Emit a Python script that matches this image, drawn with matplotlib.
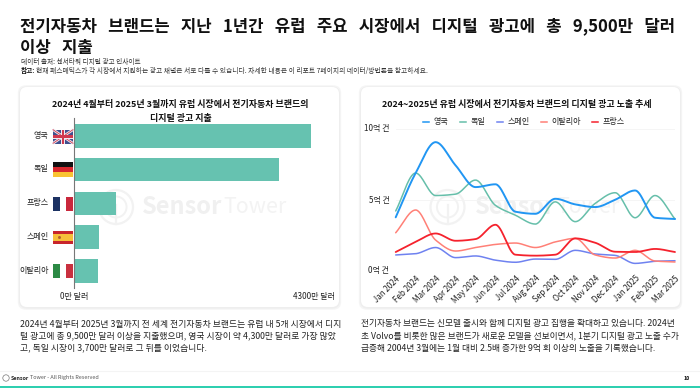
import numpy as np
import matplotlib
matplotlib.use("Agg")
import matplotlib.pyplot as plt
from matplotlib.patches import FancyBboxPatch, Rectangle, Circle
from matplotlib.lines import Line2D

plt.rcParams['font.family'] = ['Noto Sans CJK KR', 'DejaVu Sans']

# ---------- data ----------
bar_countries = ['영국', '독일', '프랑스', '스페인', '이탈리아']
bar_values = [43.0, 37.2, 7.6, 4.4, 4.25]

months = ['Jan 2024', 'Feb 2024', 'Mar 2024', 'Apr 2024', 'May 2024', 'Jun 2024', 'Jul 2024', 'Aug 2024',
          'Sep 2024', 'Oct 2024', 'Nov 2024', 'Dec 2024', 'Jan 2025', 'Feb 2025', 'Mar 2025']
uk = [3.75, 6.9, 9.1, 7.45, 5.9, 6.1, 4.15, 4.0, 5.07, 4.67, 4.48, 5.0, 5.66, 3.72, 3.63]
germany = [4.2, 6.9, 5.3, 5.4, 6.4, 4.6, 3.9, 3.27, 4.85, 3.44, 4.74, 5.5, 3.72, 5.3, 3.63]
spain = [1.07, 1.16, 1.6, 0.88, 1.0, 0.7, 0.55, 0.78, 0.76, 1.4, 1.14, 1.04, 0.47, 0.62, 0.66]
italy = [2.65, 4.27, 2.13, 1.35, 1.6, 1.82, 1.92, 1.6, 2.0, 2.25, 1.07, 0.85, 1.4, 0.64, 0.57]
france = [1.28, 2.0, 2.6, 2.08, 2.2, 3.22, 1.09, 1.02, 1.09, 2.25, 1.94, 1.3, 1.28, 1.5, 1.28]

TITLE = ['전기자동차   브랜드는   지난   1년간   유럽   주요   시장에서   디지털   광고에   총   9,500만   달러', '이상   지출']
SOURCE = '데이터 출처: 센서타워 디지털 광고 인사이트'
NOTE = '현재 패스매틱스가 각 시장에서 지원하는 광고 채널은 서로 다를 수 있습니다. 자세한 내용은 이 리포트 7페이지의 데이터/방법론을 참고하세요.'
LEFT_TITLE = ['2024년 4월부터 2025년 3월까지 유럽 시장에서 전기자동차 브랜드의', '디지털 광고 지출']
RIGHT_TITLE = '2024~2025년 유럽 시장에서 전기자동차 브랜드의 디지털 광고 노출 추세'
LEFT_BODY = ['2024년 4월부터 2025년 3월까지 전 세계 전기자동차 브랜드는 유럽 내 5개 시장에서 디지',
             '털 광고에 총 9,500만 달러 이상을 지출했으며, 영국 시장이 약 4,300만 달러로 가장 많았',
             '고, 독일 시장이 3,700만 달러로 그 뒤를 이었습니다.']
RIGHT_BODY = ['전기자동차 브랜드는 신모델 출시와 함께 디지털 광고 집행을 확대하고 있습니다. 2024년',
              '초 Volvo를 비롯한 많은 브랜드가 새로운 모델을 선보이면서, 1분기 디지털 광고 노출 수가',
              '급증해 2004년 3월에는 1월 대비 2.5배 증가한 9억 회 이상의 노출을 기록했습니다.']

W, H = 700, 388
fig = plt.figure(figsize=(7, 3.88), dpi=100, facecolor='white')

bg = fig.add_axes([0, 0, 1, 1], zorder=0)
bg.set_xlim(0, W); bg.set_ylim(H, 0); bg.axis('off')


def axes_px(x0, y0, x1, y1, **kw):
    return fig.add_axes([x0 / W, 1 - y1 / H, (x1 - x0) / W, (y1 - y0) / H], **kw)


def card(x0, y0, x1, y1):
    for grow, col in [(2.2, '#f5f5f5'), (1.1, '#eeeeee')]:
        bg.add_patch(FancyBboxPatch((x0 - grow, y0 - grow + .5), x1 - x0 + 2 * grow, y1 - y0 + 2 * grow,
                                    boxstyle='round,pad=0,rounding_size=8', fc=col, ec='none', zorder=1))
    bg.add_patch(FancyBboxPatch((x0, y0), x1 - x0, y1 - y0, boxstyle='round,pad=0,rounding_size=7',
                                fc='white', ec='none', zorder=2))


card(20, 87, 339, 307)
card(361, 87, 680, 307)


def watermark(cx, cy, r, tx):
    bg.add_patch(Circle((cx, cy), r, fc='none', ec='#f2f2f2', lw=1.6, zorder=3))
    bg.add_patch(Circle((cx, cy), r * .62, fc='none', ec='#f2f2f2', lw=1.4, zorder=3))
    bg.plot([cx, cx], [cy - 2, cy + r], color='#f2f2f2', lw=1.6, zorder=3)
    bg.text(tx, cy, 'Sensor', fontsize=17, color='#f0f0f0', fontweight='bold', va='center', ha='left', zorder=3)
    bg.text(tx + 81, cy, 'Tower', fontsize=15.5, color='#f3f3f3', va='center', ha='left', zorder=3)


watermark(116, 207, 17, 142)
watermark(447.5, 207, 17, 475)

# header
bg.text(20, 26.5, TITLE[0], fontsize=12.05, fontweight='bold', color='#111111', va='center', ha='left')
bg.text(20, 47.5, TITLE[1], fontsize=12.05, fontweight='bold', color='#111111', va='center', ha='left')
bg.text(21, 61.7, SOURCE, fontsize=4.8, color='#333333', va='center', ha='left')
bg.text(21, 70.7, '참고:', fontsize=4.8, color='#111111', fontweight='bold', va='center', ha='left')
bg.text(36, 70.7, NOTE, fontsize=4.87, color='#333333', va='center', ha='left')

# card titles
bg.text(180.4, 105, LEFT_TITLE[0], fontsize=6.45, fontweight='bold', color='#111111', ha='center', va='center', zorder=5)
bg.text(180.4, 118.5, LEFT_TITLE[1], fontsize=6.45, fontweight='bold', color='#111111', ha='center', va='center', zorder=5)
bg.text(517, 105, RIGHT_TITLE, fontsize=6.45, fontweight='bold', color='#111111', ha='center', va='center', zorder=5)

# bar chart
ax = axes_px(74.3, 118, 311, 288, zorder=3)
ax.patch.set_alpha(0)
ypos = np.arange(len(bar_countries))
ax.barh(ypos, bar_values, height=0.70, color='#66C2B0', zorder=2)
ax.set_xlim(0, 43)
ax.set_ylim(4.508, -0.529)
ax.set_xticks([]); ax.set_yticks([])
for s in ['top', 'right', 'bottom']:
    ax.spines[s].set_visible(False)
ax.spines['left'].set_color('#777777'); ax.spines['left'].set_linewidth(0.8)
for lbl, yy in zip(bar_countries, [135.5, 169, 203, 237, 270.5]):
    bg.text(48.5, yy, lbl, fontsize=5.8, color='#222222', ha='right', va='center', zorder=5)
bg.text(74.5, 296, '0만 달러', fontsize=5.8, color='#222222', ha='center', va='center', zorder=5)
bg.text(314, 296, '4300만 달러', fontsize=5.8, color='#222222', ha='center', va='center', zorder=5)

# flags
fx0, fx1 = 52.7, 73.3


def rect(x0, y0, x1, y1, c, z=5):
    bg.add_patch(Rectangle((x0, y0), x1 - x0, y1 - y0, fc=c, ec='none', zorder=z))


# UK
y0, y1 = 129.5, 143.5
rect(fx0, y0, fx1, y1, '#3f4f8e')
for a, b in [((fx0, y0), (fx1, y1)), ((fx0, y1), (fx1, y0))]:
    bg.plot(*zip(a, b), color='#f0eaf0', lw=1.9, zorder=6, solid_capstyle='butt')
    bg.plot(*zip(a, b), color='#d0384f', lw=0.6, zorder=7, solid_capstyle='butt')
rect((fx0 + fx1) / 2 - 2, y0, (fx0 + fx1) / 2 + 2, y1, '#f0eaf0', 8)
rect(fx0, (y0 + y1) / 2 - 2, fx1, (y0 + y1) / 2 + 2, '#f0eaf0', 8)
rect((fx0 + fx1) / 2 - 1.1, y0, (fx0 + fx1) / 2 + 1.1, y1, '#d0384f', 9)
rect(fx0, (y0 + y1) / 2 - 1.1, fx1, (y0 + y1) / 2 + 1.1, '#d0384f', 9)
# Germany
rect(fx0, 162, fx1, 167, '#111111'); rect(fx0, 167, fx1, 172, '#d8272e'); rect(fx0, 172, fx1, 177, '#f9c332')
# France
rect(fx0, 197, 59.7, 210.5, '#1c3263'); rect(66.3, 197, fx1, 210.5, '#c9283c')
# Spain
rect(fx0, 230.7, fx1, 244.3, '#c8252c'); rect(fx0, 234.2, fx1, 240.8, '#f6bf3a', 6)
bg.add_patch(Circle((59.5, 237.5), 1.5, fc='#b3602e', ec='none', zorder=7))
# Italy
rect(fx0, 263.5, 59.7, 277.5, '#2c8a45'); rect(66.3, 263.5, fx1, 277.5, '#c9303f')


# line chart
def smooth(y, n=30):
    """Smoothed drawing path through the read values (harmonic monotone cubic)."""
    y = np.asarray(y, float)
    m = np.zeros_like(y)
    d = np.diff(y)
    for i in range(1, len(y) - 1):
        m[i] = 0 if d[i - 1] * d[i] <= 0 else 2 * d[i - 1] * d[i] / (d[i - 1] + d[i])
    m[0], m[-1] = d[0], d[-1]
    xs, ys = [], []
    for i in range(len(y) - 1):
        t = np.linspace(0, 1, n, endpoint=False)
        h00 = 2 * t**3 - 3 * t**2 + 1; h10 = t**3 - 2 * t**2 + t
        h01 = -2 * t**3 + 3 * t**2; h11 = t**3 - t**2
        xs.append(i + t)
        ys.append(h00 * y[i] + h10 * m[i] + h01 * y[i + 1] + h11 * m[i + 1])
    xs.append([len(y) - 1]); ys.append([y[-1]])
    return np.concatenate(xs), np.concatenate(ys)


ax2 = axes_px(395.7, 129.5, 675, 270, zorder=3)
ax2.patch.set_alpha(0)
series = [('영국', uk, '#2196F3', 1.4), ('독일', germany, '#66BFAA', 1.1), ('스페인', spain, '#6F82F0', 1.1),
          ('이탈리아', italy, '#FF8077', 1.1), ('프랑스', france, '#F5222D', 1.3)]
for i in [1, 0, 2, 3, 4]:
    name, vals, col, lw = series[i]
    sx, sy = smooth(vals)
    ax2.plot(sx, sy, color=col, lw=lw, label=name, solid_capstyle='round', clip_on=False)
ax2.set_xlim(0, 14); ax2.set_ylim(0, 10)
ax2.set_yticks([0, 5, 10]); ax2.set_yticklabels([])
ax2.set_xticks(range(len(months)))
ax2.set_xticklabels(months, rotation=45, ha='right', rotation_mode='anchor', fontsize=5.8, color='#222222')
ax2.tick_params(axis='x', length=0, pad=3)
ax2.tick_params(axis='y', length=0)
ax2.grid(axis='y', color='#f4f4f4', lw=0.6)
ax2.set_axisbelow(True)
for s in ax2.spines.values():
    s.set_visible(False)
for t, yy in zip(['0억 건', '5억 건', '10억 건'], [270, 200.5, 129]):
    bg.text(389.5, yy, t, fontsize=5.8, color='#222222', ha='right', va='center', zorder=5)

# legend
for (name, vals, col, lw), lx, tx in zip(series, [422.7, 460, 496.7, 540.5, 591.7], [433.3, 470.7, 507.7, 551.7, 602.3]):
    bg.add_line(Line2D([lx, lx + 6], [121.7, 121.7], color=col, lw=1.1, zorder=5))
    bg.text(tx, 121.7, name, fontsize=5.8, color='#222222', ha='left', va='center', zorder=5)

# body text
for yy, line in zip([324, 335.8, 347.5], LEFT_BODY):
    bg.text(20, yy, line, fontsize=6.32, color='#222222', ha='left', va='center')
for yy, line in zip([323.5, 335.7, 348], RIGHT_BODY):
    bg.text(361, yy, line, fontsize=6.27, color='#222222', ha='left', va='center')

# footer
bg.plot([0, 700], [370.5, 370.5], color='#f4f4f4', lw=0.8)
bg.add_patch(Rectangle((0, 386), 700, 2, fc='#2FCFB0', ec='none'))
bg.add_patch(Circle((6, 378), 3.2, fc='none', ec='#777777', lw=0.5))
bg.text(11, 378, 'Sensor', fontsize=3.9, color='#222222', fontweight='bold', ha='left', va='center')
bg.text(29.5, 378, 'Tower - All Rights Reserved', fontsize=3.95, color='#555555', ha='left', va='center')
bg.text(690, 378, '10', fontsize=3.8, color='#111111', fontweight='bold', ha='right', va='center')

fig.savefig('out.png', dpi=100, facecolor='white')
